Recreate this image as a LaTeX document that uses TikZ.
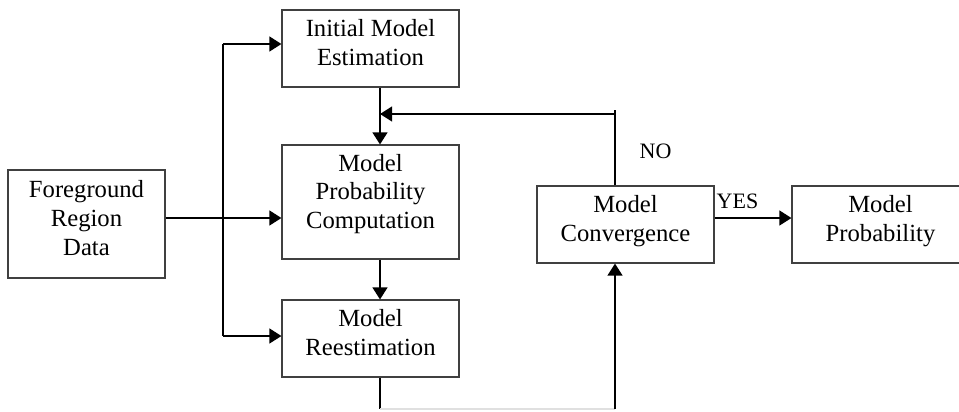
\documentclass[tikz,border=0pt]{standalone}
\usepackage{fontspec}
\setmainfont{Liberation Serif}
\usetikzlibrary{arrows.meta}
\tikzset{
  blk/.style={draw=black!75, line width=0.8pt, align=center, inner sep=0pt, text depth=9pt,
    minimum width=177*0.75pt, minimum height=77*0.75pt, font=\fontsize{18.5}{21.5}\selectfont},
  arr/.style={line width=1.5pt, -{Triangle[length=9pt,width=11pt]}},
  ln/.style={line width=0.8pt},
  lbl/.style={font=\fontsize{16.5}{19}\selectfont}
}
\begin{document}
\begin{tikzpicture}[x=0.75pt,y=-0.75pt]
			\useasboundingbox (0,0) rectangle (959,411);
			\node[blk, minimum width=157*0.75pt, minimum height=108*0.75pt] (fg) at (86.5,224) {Foreground\\Region\\Data};
			\node[blk] (init) at (370.5,48.5) {Initial Model\\Estimation};
			\node[blk, minimum height=114*0.75pt, text depth=16pt] (comp) at (370.5,202) {Model\\Probability\\Computation};
			\node[blk] (reest) at (370.5,338.5) {Model\\Reestimation};
			\node[blk] (conv) at (625.5,224.5) {Model\\Convergence};
			\node[blk] (prob) at (880.5,224.5) {Model\\Probability};
			
			\coordinate (t1) at (223,44);
			\coordinate (t2) at (223,218);
			\coordinate (t3) at (223,336);
			\coordinate (col) at (380,0);
			\coordinate (fb) at (615,114);
			\coordinate (bot) at (615,409);
			
			\draw [ln] (t1) -- (t3);
			\draw [arr] (t1) -- (init.west |- t1);
			\draw [arr] (fg.east |- t2) -- (comp.west |- t2);
			\draw [arr] (t3) -- (reest.west |- t3);
			
			\draw [arr] (init.south -| col) -- (comp.north -| col);
			\draw [arr] (comp.south -| col) -- (reest.north -| col);
			
			\draw [ln] (conv.north -| fb) -- ([yshift=3] fb);
			\draw [arr] (fb) -- (col |- fb);
			
			\draw [ln] (reest.south -| col) -- (col |- bot);
			\draw [ln, black!12] (col |- bot) -- (bot);
			\draw [arr] (bot) -- (conv.south -| bot);
			
			\draw [arr] (conv.east |- t2) -- (prob.west |- t2);
			\node[lbl, anchor=west] (no) at (635,151) {NO};
			\node[lbl, anchor=west] (yes) at (712,201) {YES};
\end{tikzpicture}
\end{document}
